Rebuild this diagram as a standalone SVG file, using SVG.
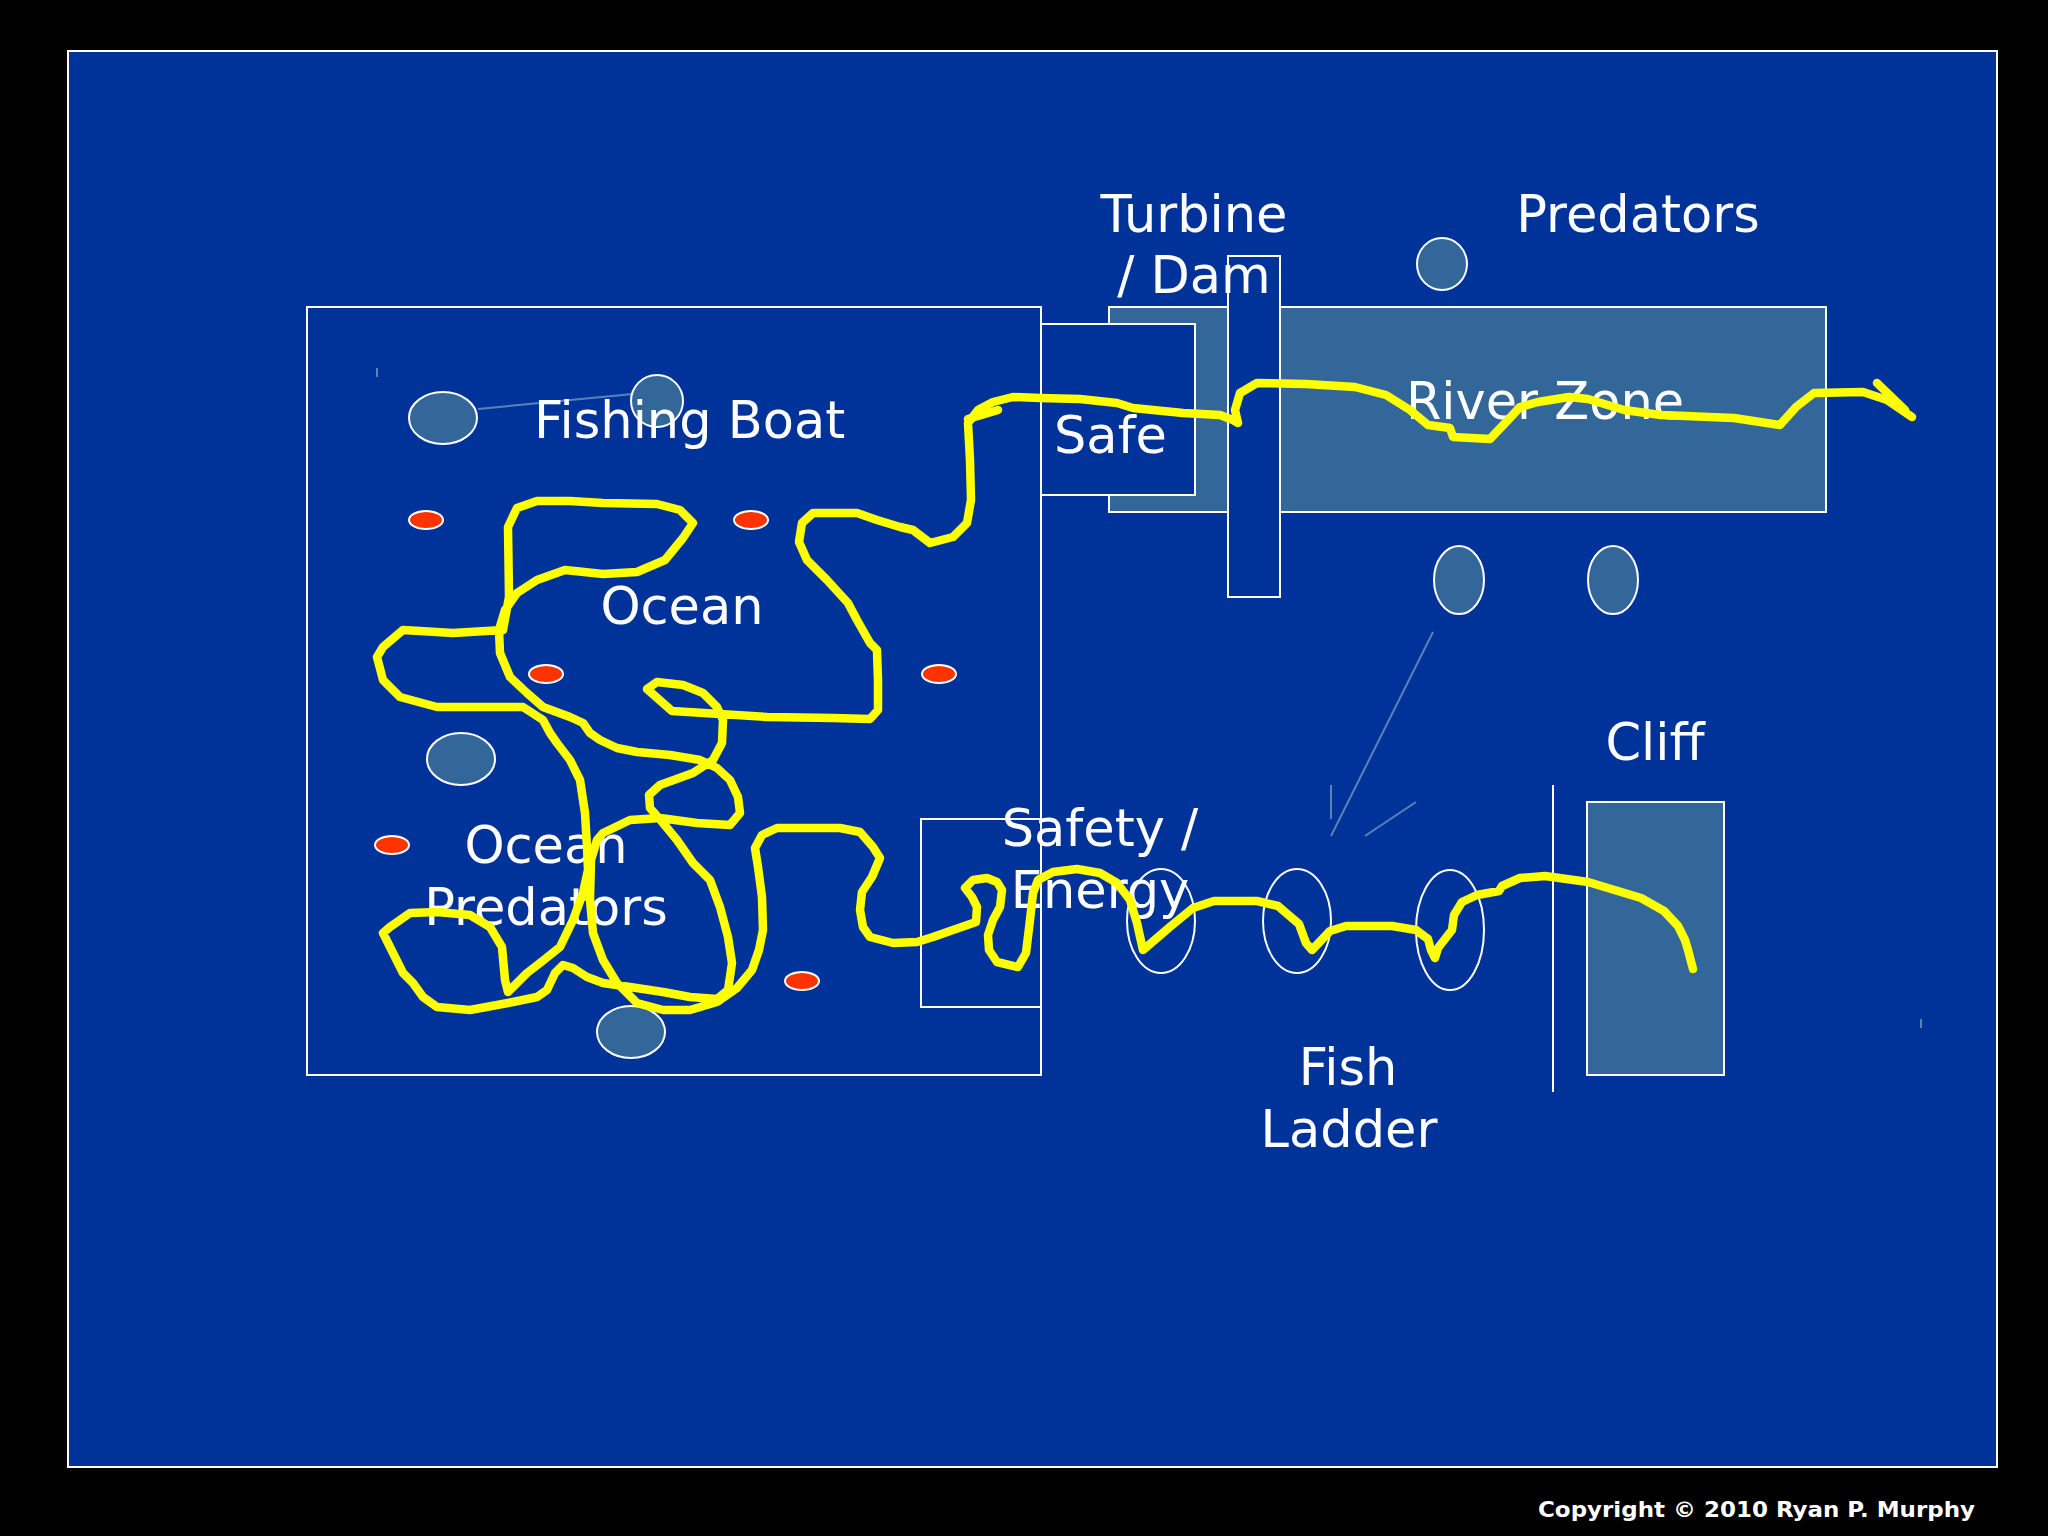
<svg xmlns="http://www.w3.org/2000/svg" width="2048" height="1536" viewBox="0 0 2048 1536">
<defs>
<style>
.lbl{font-family:"DejaVu Sans","Verdana","Liberation Sans",sans-serif;font-size:51px;fill:#ffffff}
.box{fill:#003399;stroke:#ffffff;stroke-width:2}
.zone{fill:#336699;stroke:#ffffff;stroke-width:2}
.fish{fill:#336699;stroke:#ffffff;stroke-width:2}
.red{fill:#ff3300;stroke:#ffffff;stroke-width:2}
.ring{fill:none;stroke:#ffffff;stroke-width:2}
.thin{stroke:#5b82b8;stroke-width:2;fill:none}
.path{fill:none;stroke:#ffff00;stroke-width:8.5;stroke-linejoin:round;stroke-linecap:round}
</style>
</defs>
<rect x="0" y="0" width="2048" height="1536" fill="#000000"/>
<rect x="68" y="51" width="1929" height="1416" fill="#003399" stroke="#ffffff" stroke-width="2"/>

<g id="river-zone">
<rect class="zone" x="1109" y="307" width="717" height="205"/>
<text class="lbl" x="1545" y="419" text-anchor="middle">River Zone</text>
</g>
<g id="ocean">
<rect x="307" y="307" width="734" height="768" fill="none" stroke="#ffffff" stroke-width="2"/>
<text class="lbl" x="682" y="624" text-anchor="middle">Ocean</text>
</g>
<g id="safe">
<rect class="box" x="1041" y="324" width="154" height="171"/>
<text class="lbl" x="1054" y="453">Safe</text>
</g>
<g id="turbine-dam">
<rect class="box" x="1228" y="256" width="52" height="341"/>
<text class="lbl" x="1194" y="232" text-anchor="middle">Turbine</text>
<text class="lbl" x="1194" y="293" text-anchor="middle">/ Dam</text>
</g>
<g id="predators">
<ellipse class="fish" cx="1442" cy="264" rx="25" ry="26"/>
<ellipse class="fish" cx="1459" cy="580" rx="25" ry="34"/>
<ellipse class="fish" cx="1613" cy="580" rx="25" ry="34"/>
<text class="lbl" x="1638" y="232" text-anchor="middle">Predators</text>
</g>
<g id="fishing-boat">
<line class="thin" x1="478" y1="409" x2="633" y2="394"/>
<ellipse class="fish" cx="443" cy="418" rx="34" ry="26"/>
<ellipse class="fish" cx="657" cy="401" rx="26" ry="26"/>
<line class="thin" x1="377" y1="368" x2="377" y2="377" stroke-width="1.5"/>
<text class="lbl" x="534" y="438">Fishing Boat</text>
</g>
<g id="ocean-predators">
<ellipse class="red" cx="426" cy="520" rx="17" ry="9"/>
<ellipse class="red" cx="751" cy="520" rx="17" ry="9"/>
<ellipse class="red" cx="546" cy="674" rx="17" ry="9"/>
<ellipse class="red" cx="939" cy="674" rx="17" ry="9"/>
<ellipse class="red" cx="392" cy="845" rx="17" ry="9"/>
<ellipse class="red" cx="802" cy="981" rx="17" ry="9"/>
<ellipse class="fish" cx="461" cy="759" rx="34" ry="26"/>
<ellipse class="fish" cx="631" cy="1032" rx="34" ry="26"/>
<text class="lbl" x="546" y="863" text-anchor="middle">Ocean</text>
<text class="lbl" x="546" y="925" text-anchor="middle">Predators</text>
</g>
<g id="safety-energy">
<rect x="921" y="819" width="120" height="188" fill="none" stroke="#ffffff" stroke-width="2"/>
<text class="lbl" x="1100" y="846" text-anchor="middle">Safety /</text>
<text class="lbl" x="1100" y="908" text-anchor="middle">Energy</text>
</g>
<g id="fish-ladder">
<line class="thin" x1="1433" y1="632" x2="1331" y2="836"/>
<line class="thin" x1="1331" y1="785" x2="1331" y2="819"/>
<line class="thin" x1="1416" y1="802" x2="1365" y2="836"/>
<ellipse class="ring" cx="1161" cy="921" rx="34" ry="52"/>
<ellipse class="ring" cx="1297" cy="921" rx="34" ry="52"/>
<ellipse class="ring" cx="1450" cy="930" rx="34" ry="60"/>
<text class="lbl" x="1348" y="1085" text-anchor="middle">Fish</text>
<text class="lbl" x="1349" y="1147" text-anchor="middle">Ladder</text>
</g>
<g id="cliff">
<line x1="1553" y1="785" x2="1553" y2="1092" stroke="#ffffff" stroke-width="2"/>
<rect class="zone" x="1587" y="802" width="137" height="273"/>
<text class="lbl" x="1655" y="760" text-anchor="middle">Cliff</text>
<line class="thin" x1="1921" y1="1019" x2="1921" y2="1028" stroke-width="1.5"/>
</g>

<g id="connectors">
<polyline class="path" points="1693,969 1688,950 1685,940 1678,926 1664,911 1641,898 1588,882 1545,876 1520,878 1502,886 1499,891 1477,895 1462,902 1454,915 1452,930 1438,948 1435,958 1431,950 1428,939 1416,930 1392,926 1346,926 1330,931 1312,950 1306,943 1299,924 1278,906 1257,901 1214,901 1193,908 1171,926 1143,950 1137,923 1130,900 1117,883 1100,873 1077,869 1053,872 1038,880 1033,893 1030,920 1026,953 1018,967 997,962 989,950 988,935 993,920 1000,907 1002,890 997,882 987,878 973,880 965,888 972,897 977,907 976,922 953,930 933,937 917,942 893,943 870,937 863,927 860,910 862,892 872,877 880,858 873,847 860,832 840,828 800,828 777,828 762,835 755,848 758,867 762,897 763,930 759,950 752,970 737,988 717,1002 690,1010 663,1010 637,1003 617,983 603,960 593,933 590,900 591,860 597,840 603,833 630,820 660,818 697,823 730,825 740,813 738,797 730,780 717,768 700,760 670,755 637,752 617,748 600,740 590,733 583,723 570,717 543,707 527,693 510,677 500,653 499,630 505,610 517,593 537,580 565,570 603,574 637,572 665,560 683,538 693,523 680,510 657,504 603,503 570,501 537,501 517,508 508,527 509,597 503,630 453,633 403,630 383,647 377,657 383,680 400,697 437,707 523,707 543,720 550,733 557,743 570,760 580,780 585,813 587,847 588,870 583,893 573,920 560,947 540,963 527,973 517,983 508,992 505,980 502,947 490,927 470,915 437,912 410,913 390,927 383,933 393,953 403,973 413,983 423,997 437,1007 470,1010 497,1005 513,1002 537,997 547,990 555,973 563,965 573,968 587,977 603,983 630,987 663,992 690,997 717,999 728,990 732,963 728,937 720,907 710,880 693,863 677,840 663,823 650,808 649,795 660,785 693,773 713,760 722,743 723,720 717,707 703,693 683,685 657,682 647,689 672,711 767,717 833,718 870,719 878,710 878,680 877,650 870,643 857,620 848,603 827,580 807,560 799,542 802,523 813,513 857,513 877,520 900,527 913,530 930,543 953,537 967,523 971,500 970,460 968,423 978,410 993,402 1013,397 1040,398 1080,399 1117,403 1133,408 1183,413 1220,415 1233,420 1238,423 1235,410 1240,393 1257,383 1306,384 1355,387 1386,395 1410,410 1428,425 1450,428 1453,437 1490,439 1508,420 1520,407 1538,402 1569,397 1588,399 1624,410 1661,415 1734,418 1780,425 1796,407 1814,393 1863,392 1887,400 1912,417"/>
<polyline class="path" stroke-width="6" points="968,419 998,410"/>
<polyline class="path" stroke-width="6" points="1877,383 1905,410"/>
</g>

<text x="1538" y="1517" font-family="DejaVu Sans, Verdana, sans-serif" font-weight="bold" font-size="22" fill="#ffffff" textLength="437" lengthAdjust="spacingAndGlyphs">Copyright © 2010 Ryan P. Murphy</text>
</svg>
